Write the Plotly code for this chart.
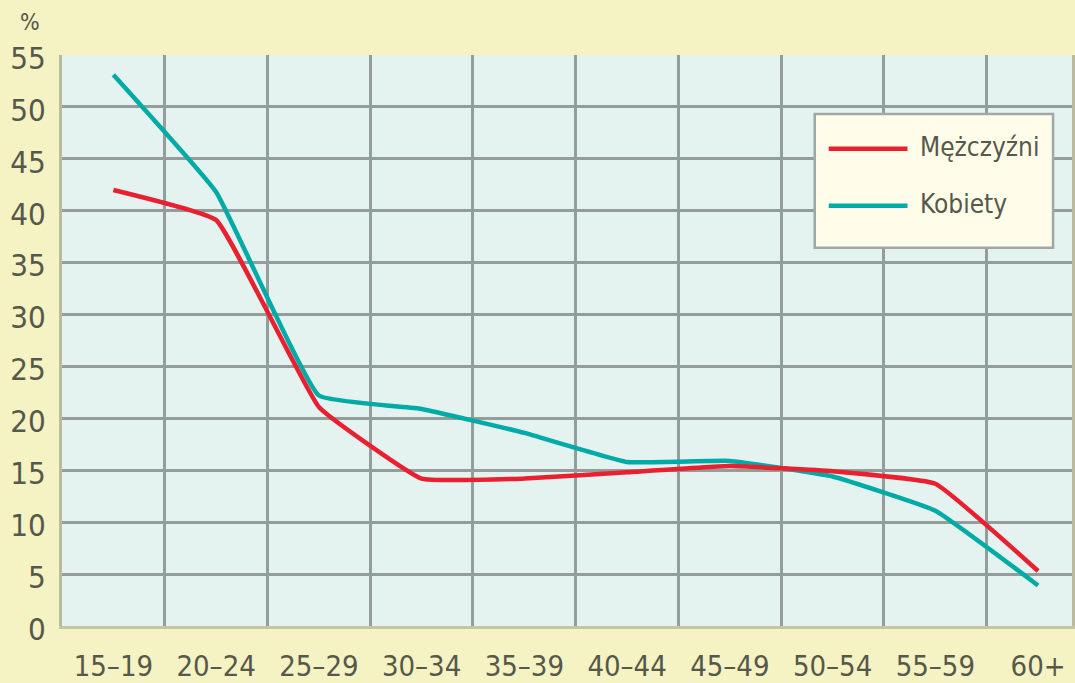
import plotly.graph_objects as go

age_groups = ["15–19", "20–24", "25–29", "30–34", "35–39", "40–44", "45–49", "50–54", "55–59", "60+"]
men = [42.0, 39.1, 21.1, 14.2, 14.2, 14.8, 15.4, 14.9, 13.7, 5.3]
women = [53.1, 41.8, 22.2, 20.9, 18.6, 15.8, 15.9, 14.4, 11.1, 3.9]
y_ticks = [0, 5, 10, 15, 20, 25, 30, 35, 40, 45, 50, 55]
series_names = ["Mężczyźni", "Kobiety"]

RED = "#e8202f"
TEAL = "#00aaa6"
TXT = "#56584a"
FONT = "DejaVu Sans Condensed, Liberation Sans Narrow, Liberation Sans, sans-serif"

W, H = 1075, 683
pl, pt, pr, pb = 62, 55, 0, 56

fig = go.Figure()
fig.add_trace(go.Scatter(x=age_groups, y=women, mode="lines", name=series_names[1],
                         line=dict(color=TEAL, width=4.5, shape="spline", smoothing=0.3)))
fig.add_trace(go.Scatter(x=age_groups, y=men, mode="lines", name=series_names[0],
                         line=dict(color=RED, width=4.5, shape="spline", smoothing=0.3)))

fig.update_layout(
    width=W, height=H,
    margin=dict(l=pl, r=pr, t=pt, b=pb),
    paper_bgcolor="#f5f2c4",
    plot_bgcolor="#e4f2f0",
    showlegend=False,
    font=dict(family=FONT, color=TXT, size=30),
    xaxis=dict(
        type="category", range=[-0.5, 9.33], tickson="boundaries",
        showgrid=True, gridcolor="#939e9a", gridwidth=2.5,
        showline=True, linecolor="#c4c5a6", linewidth=3,
        ticks="", ticklabelstandoff=12, tickangle=0,
        tickfont=dict(family=FONT, size=29, color=TXT),
        zeroline=False,
    ),
    yaxis=dict(
        range=[0, 55], tickvals=y_ticks, ticktext=[str(v) for v in y_ticks],
        showgrid=True, gridcolor="#939e9a", gridwidth=2.5,
        showline=True, linecolor="#b9bb9c", linewidth=3, mirror=True,
        ticks="", ticklabelstandoff=7, ticklabelshift=3,
        tickfont=dict(family=FONT, size=31, color=TXT),
        zeroline=False,
    ),
)

pw, ph = W - pl - pr, H - pt - pb
def fx(x):
    return (x - pl) / pw
def fy(y):
    return 1 - (y - pt) / ph

# "%" unit label
fig.add_annotation(x=fx(30), y=fy(22), xref="paper", yref="paper", text="%",
                   showarrow=False, font=dict(family=FONT, size=23, color=TXT),
                   xanchor="center", yanchor="middle")

# legend box drawn to match the original's long line samples
fig.add_shape(type="rect", xref="paper", yref="paper",
              x0=fx(817), x1=fx(1056), y0=fy(248), y1=fy(114),
              fillcolor="#fffde9", line=dict(color="#9ea8a5", width=2.5), layer="above")
legend_items = [(series_names[0], RED, 149), (series_names[1], TEAL, 206)]
for name, color, yy in legend_items:
    fig.add_shape(type="line", xref="paper", yref="paper",
                  x0=fx(831), x1=fx(910), y0=fy(yy), y1=fy(yy),
                  line=dict(color=color, width=4.5), layer="above")
    fig.add_annotation(x=fx(921), y=fy(yy - 2), xref="paper", yref="paper", text=name,
                       showarrow=False, xanchor="left", yanchor="middle",
                       font=dict(family=FONT, size=26, color=TXT))

fig.write_html("out.html", config={"displayModeBar": False},
               post_script="document.body.style.margin='0';document.body.style.overflow='hidden';")
